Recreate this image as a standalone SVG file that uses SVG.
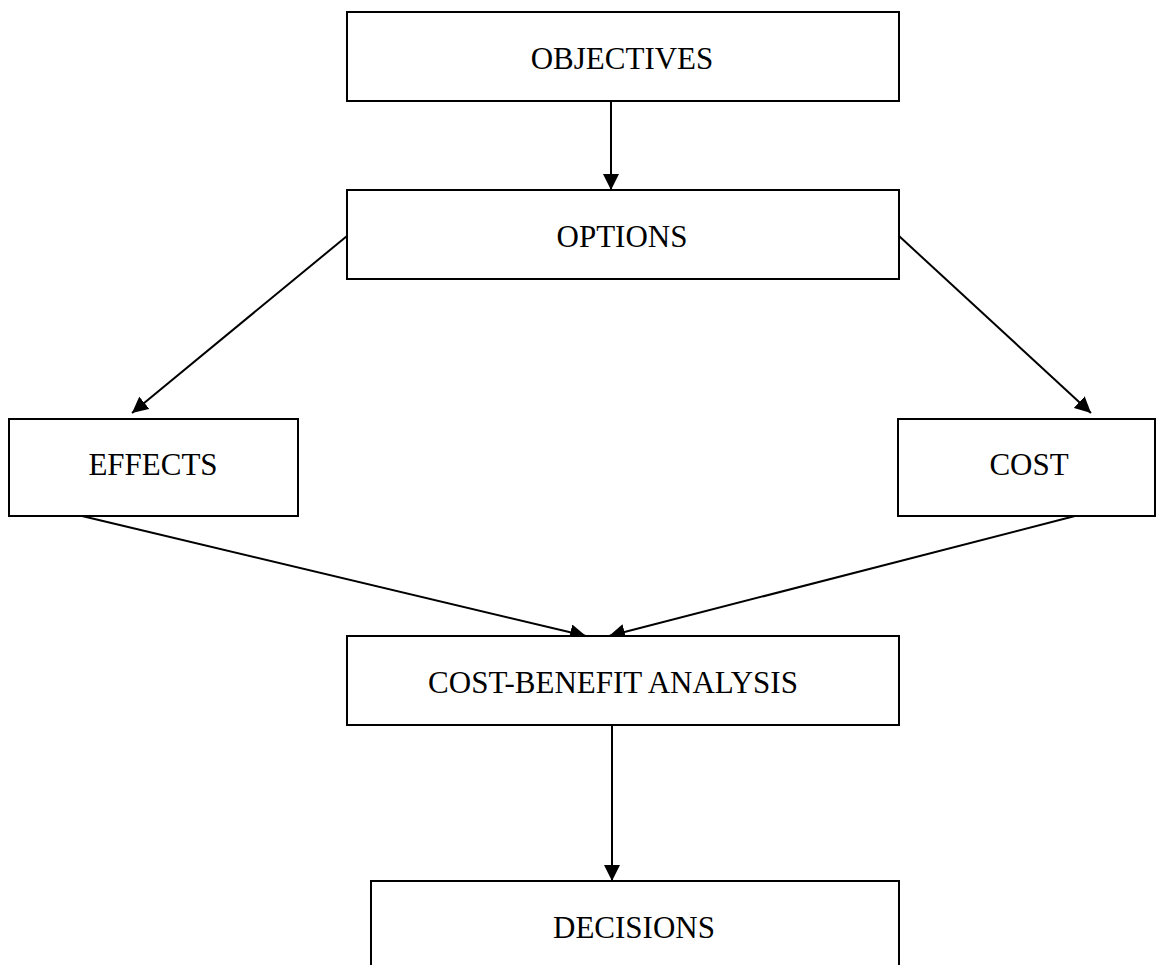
<svg xmlns="http://www.w3.org/2000/svg" width="1156" height="965" viewBox="0 0 1156 965">
<style>
.box{fill:#fff;stroke:#000;stroke-width:2}
.lbl{font-family:"Liberation Serif","Times New Roman",serif;font-size:31px;fill:#000;text-anchor:middle}
.edge{stroke:#000;stroke-width:2;fill:none;marker-end:url(#ah)}
</style>
<defs>
<marker id="ah" markerWidth="16" markerHeight="16" refX="16" refY="8" orient="auto" markerUnits="userSpaceOnUse">
<path d="M0,0 L16,8 L0,16 Z" fill="#000"/>
</marker>
</defs>
<rect width="1156" height="965" fill="#fff"/>
<g id="connectors">
<line class="edge" x1="611" y1="101" x2="611" y2="190"/>
<line class="edge" x1="347" y1="236" x2="132" y2="413"/>
<line class="edge" x1="899" y1="236" x2="1091" y2="413"/>
<line class="edge" x1="82" y1="516" x2="586" y2="636"/>
<line class="edge" x1="1075" y1="516" x2="609" y2="636"/>
<line class="edge" x1="612" y1="725" x2="612" y2="881"/>
</g>
<g id="objectives"><rect class="box" x="347" y="12" width="552" height="89"/><text class="lbl" x="622" y="69">OBJECTIVES</text></g>
<g id="options"><rect class="box" x="347" y="190" width="552" height="89"/><text class="lbl" x="622" y="247">OPTIONS</text></g>
<g id="effects"><rect class="box" x="9" y="419" width="289" height="97"/><text class="lbl" x="153" y="475">EFFECTS</text></g>
<g id="cost"><rect class="box" x="898" y="419" width="257" height="97"/><text class="lbl" x="1029" y="475">COST</text></g>
<g id="cba"><rect class="box" x="347" y="636" width="552" height="89"/><text class="lbl" x="613" y="693">COST-BENEFIT ANALYSIS</text></g>
<g id="decisions"><rect class="box" x="371" y="881" width="528" height="100"/><text class="lbl" x="634" y="938">DECISIONS</text></g>
</svg>
